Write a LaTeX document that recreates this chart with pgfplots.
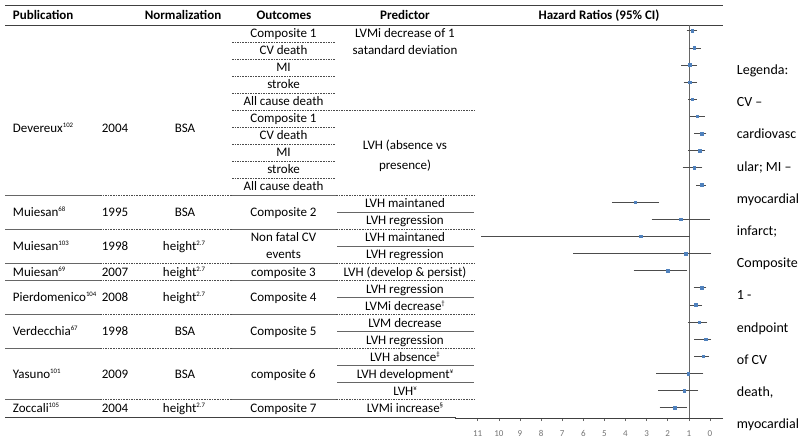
\documentclass[border=0pt]{standalone}
\usepackage{pgfplots}
\pgfplotsset{compat=1.18}
\usepackage{pgfplotstable}
\usepackage{fontspec}
\setmainfont{Carlito}
\definecolor{ptblue}{HTML}{4F81BD}

\pgfplotstableread{
row hr lo hi
1 0.84 0.68 1.03
2 0.74 0.51 0.91
3 0.95 0.68 1.29
4 0.95 0.68 1.18
5 0.84 0.71 0.95
6 0.60 0.32 0.87
7 0.39 0.24 0.68
8 0.50 0.32 0.95
9 0.74 0.43 1.22
10 0.39 0.27 0.58
11 3.55 2.48 4.58
12 1.39 0.08 2.69
13 3.27 1.03 10.77
14 1.14 0.02 6.40
15 2.00 1.15 3.55
16 0.39 0.24 0.71
17 0.68 0.44 0.87
18 0.51 0.21 0.98
19 0.21 0.02 0.68
20 0.32 0.11 0.68
21 1.03 0.39 2.48
22 1.23 0.63 2.37
23 1.66 1.15 2.32
}\hrdata

\newcommand{\sps}[1]{\raisebox{4.8pt}{\fontsize{6.8}{7}\selectfont #1}}
\newcommand{\R}[1]{{-(37.4+17.045*(#1-1))}}
\newcommand{\B}[1]{{-(41.8+17.045*(#1-1))}}
\newcommand{\tf}{\fontsize{13}{15}\selectfont}

\begin{document}
\begin{tikzpicture}[x=1pt,y=1pt,
  t/.style={inner sep=0pt, anchor=base, font=\tf},
  tl/.style={inner sep=0pt, anchor=base west, font=\tf},
  hd/.style={inner sep=0pt, anchor=base, font=\tf\bfseries},
  lg/.style={inner sep=0pt, anchor=base west, font=\fontsize{14}{16}\selectfont},
  sol/.style={black!60, line width=0.7pt},
  dsh/.style={black!70, line width=0.6pt, dash pattern=on 1.6pt off 1pt},
  rule/.style={black!75, line width=0.9pt}]
\useasboundingbox (0,0) rectangle (800,-442);

% rules
\draw[rule] (5,-5) -- (723,-5);
\draw[rule] (5,-25) -- (723,-25);
\draw[rule] (5,-417.7) -- (456,-417.7);

% header
\node[hd, anchor=base west] at (12.7,-19.5) {Publication};
\node[hd] at (183,-19.5) {Normalization};
\node[hd] at (284,-19.5) {Outcomes};
\node[hd] at (405,-19.5) {Predictor};
\node[hd] at (599,-19.5) {Hazard Ratios (95\% CI)};

% Devereux internal lines
\foreach \k in {1,2,3,4,6,7,8,9} \draw[dsh] (232,\B{\k}) -- (335,\B{\k});
\draw[dsh] (232,\B{5}) -- (474,\B{5});

% group separators
\foreach \k in {10,12,14,15,17,19,22} {
  \draw[sol] (5,\B{\k}) -- (100,\B{\k});
  \draw[dsh] (100,\B{\k}) -- (232,\B{\k});
  \draw[sol] (232,\B{\k}) -- (336,\B{\k});
  \draw[dsh] (336,\B{\k}) -- (474,\B{\k});
}
% predictor internal lines
\foreach \k in {11,13,16,18,20,21} \draw[sol] (337,\B{\k}) -- (474,\B{\k});

% Publication / year / normalization
\node[tl] at (12.7,-132.3) {Devereux\sps{102}};
\node[t] at (115,-132.3) {2004};
\node[t] at (185,-132.3) {BSA};

\node[tl] at (12.7,\R{11.5}) {Muiesan\sps{68}};
\node[t] at (115,\R{11.5}) {1995};
\node[t] at (185,\R{11.5}) {BSA};

\node[tl] at (12.7,\R{13.5}) {Muiesan\sps{103}};
\node[t] at (115,\R{13.5}) {1998};
\node[t] at (184,\R{13.5}) {height\sps{2.7}};

\node[tl] at (12.7,\R{15}) {Muiesan\sps{69}};
\node[t] at (115,\R{15}) {2007};
\node[t] at (184,\R{15}) {height\sps{2.7}};

\node[tl] at (12.7,\R{16.5}) {Pierdomenico\sps{104}};
\node[t] at (115,\R{16.5}) {2008};
\node[t] at (184,\R{16.5}) {height\sps{2.7}};

\node[tl] at (12.7,\R{18.5}) {Verdecchia\sps{67}};
\node[t] at (115,\R{18.5}) {1998};
\node[t] at (185,\R{18.5}) {BSA};

\node[tl] at (12.7,\R{21}) {Yasuno\sps{101}};
\node[t] at (115,\R{21}) {2009};
\node[t] at (185,\R{21}) {BSA};

\node[tl] at (12.7,\R{23}) {Zoccali\sps{105}};
\node[t] at (115,\R{23}) {2004};
\node[t] at (184,\R{23}) {height\sps{2.7}};

% Outcomes
\node[t] at (283.5,\R{1}) {Composite 1};
\node[t] at (283.5,\R{2}) {CV death};
\node[t] at (283.5,\R{3}) {MI};
\node[t] at (283.5,\R{4}) {stroke};
\node[t] at (283.5,\R{5}) {All cause death};
\node[t] at (283.5,\R{6}) {Composite 1};
\node[t] at (283.5,\R{7}) {CV death};
\node[t] at (283.5,\R{8}) {MI};
\node[t] at (283.5,\R{9}) {stroke};
\node[t] at (283.5,\R{10}) {All cause death};
\node[t] at (283.5,\R{11.5}) {Composite 2};
\node[t] at (283.5,\R{13}) {Non fatal CV};
\node[t] at (283.5,\R{14}) {events};
\node[t] at (283.5,\R{15}) {composite 3};
\node[t] at (283.5,\R{16.5}) {Composite 4};
\node[t] at (283.5,\R{18.5}) {Composite 5};
\node[t] at (283.5,\R{21}) {composite 6};
\node[t] at (283.5,\R{23}) {Composite 7};

% Predictor
\node[t] at (405,\R{1}) {LVMi decrease of 1};
\node[t] at (405,\R{2}) {satandard deviation};
\node[t] at (405,-149) {LVH (absence vs};
\node[t] at (405,-169) {presence)};
\node[t] at (405,\R{11}) {LVH maintaned};
\node[t] at (405,\R{12}) {LVH regression};
\node[t] at (405,\R{13}) {LVH maintaned};
\node[t] at (405,\R{14}) {LVH regression};
\node[t] at (405,\R{15}) {LVH (develop \& persist)};
\node[t] at (405,\R{16}) {LVH regression};
\node[t] at (405,\R{17}) {LVMi decrease\sps{†}};
\node[t] at (405,\R{18}) {LVM decrease};
\node[t] at (405,\R{19}) {LVH regression};
\node[t] at (405,\R{20}) {LVH absence\sps{‡}};
\node[t] at (405,\R{21}) {LVH development\sps{¥}};
\node[t] at (405,\R{22}) {LVH\sps{¥}};
\node[t] at (405,\R{23}) {LVMi increase\sps{§}};

% Legend text on right
\node[lg] at (736.7,-74.5) {Legenda:};
\node[lg] at (736.7,-106.5) {CV –};
\node[lg] at (736.7,-138.8) {cardiovasc};
\node[lg] at (736.7,-171) {ular; MI –};
\node[lg] at (736.7,-203.2) {myocardial};
\node[lg] at (736.7,-235.4) {infarct;};
\node[lg] at (736.7,-267.6) {Composite};
\node[lg] at (736.7,-299.8) {1 -};
\node[lg] at (736.7,-332) {endpoint};
\node[lg] at (736.7,-364.2) {of CV};
\node[lg] at (736.7,-396.4) {death,};
\node[lg] at (736.7,-428.6) {myocardial};

\begin{axis}[
  at={(455pt,-418pt)}, anchor=south west,
  scale only axis, width=268pt, height=393pt,
  x dir=reverse,
  xmin=-0.616, xmax=12.075, ymin=-23.602, ymax=-0.667,
  axis x line*=bottom, axis y line=none,
  xtick={0,...,11}, ytick=\empty,
  tick align=outside, major tick length=3pt,
  x axis line style={black!75, line width=0.9pt},
  xtick style={black!60, line width=0.6pt},
  xticklabel style={font=\fontsize{9}{10}\selectfont, text=black!55, yshift=-6pt},
  /pgf/number format/assume math mode=true,
  clip=false,
]
\addplot[black!60, line width=0.6pt] coordinates {(1,-0.667) (1,-23.602)};
\addplot[only marks, mark=square*, mark size=1.3pt, mark options={fill=ptblue, draw=ptblue},
  error bars/.cd, x dir=both, x explicit,
  error bar style={black!70, line width=0.6pt},
  error mark options={black!70, line width=0.6pt, mark size=1.5pt}]
  table[x=hr, y expr=-\thisrow{row},
        x error plus expr=\thisrow{hi}-\thisrow{hr},
        x error minus expr=\thisrow{hr}-\thisrow{lo}] {\hrdata};
\end{axis}
\end{tikzpicture}
\end{document}
